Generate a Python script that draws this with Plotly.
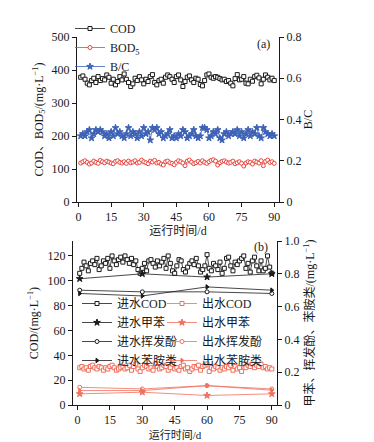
import plotly.graph_objects as go

# ---------------- data ----------------
x_ticks = [0, 15, 30, 45, 60, 75, 90]

cod_a = [378,382,372,360,355,368,375,362,380,368,374,370,385,378,360,372,355,365,380,370,
         388,372,362,350,358,375,368,380,370,358,372,365,380,386,362,355,368,372,360,378,
         385,380,372,362,380,385,370,350,365,378,382,370,362,375,372,356,352,368,385,388,
         378,375,380,378,374,370,372,365,368,360,352,374,386,370,372,380,360,358,372,366,
         380,384,376,358,372,385,378,370,375,368]
bod_a = [118,122,125,120,115,118,124,120,117,126,122,119,124,121,118,116,123,125,120,118,
         122,117,124,119,121,125,118,120,127,122,119,116,124,121,126,118,120,115,112,122,
         124,119,117,113,120,125,122,118,110,124,127,121,116,119,123,118,125,120,117,122,
         126,128,124,112,119,123,125,121,118,120,124,116,119,122,117,109,118,122,120,115,
         124,121,118,125,110,123,127,120,122,117]
bc_a = [0.32,0.33,0.32,0.34,0.35,0.31,0.33,0.35,0.34,0.35,0.34,0.32,0.33,0.31,0.34,0.32,0.36,0.33,0.34,0.32,
        0.31,0.33,0.36,0.32,0.34,0.33,0.31,0.34,0.32,0.36,0.33,0.34,0.30,0.36,0.35,0.36,0.33,0.34,0.31,0.32,
        0.33,0.35,0.31,0.32,0.31,0.33,0.32,0.35,0.34,0.31,0.32,0.33,0.35,0.32,0.31,0.32,0.36,0.36,0.35,0.31,
        0.32,0.34,0.33,0.35,0.31,0.30,0.33,0.34,0.32,0.33,0.34,0.33,0.35,0.32,0.34,0.31,0.33,0.35,0.32,0.34,
        0.33,0.36,0.32,0.31,0.36,0.34,0.33,0.32,0.33,0.32]

cod_in = [106,110,115,112,108,114,116,113,118,109,112,116,114,118,110,120,116,113,117,119,
          115,120,117,114,118,113,116,109,106,110,114,108,116,117,114,111,116,112,115,118,
          110,120,114,108,106,112,117,116,109,107,111,114,116,113,118,112,107,109,112,121,
          110,108,114,112,109,115,106,110,118,119,112,108,115,113,116,118,120,110,114,107,
          116,119,112,108,116,108,110,120,111,106]
cod_out = [30,31,29,30,28,31,32,30,29,31,30,28,30,29,31,32,30,28,29,30,
           31,29,30,32,28,31,33,29,27,30,32,31,29,30,28,33,31,29,30,32,
           31,28,30,33,29,30,28,31,32,29,30,27,29,31,30,32,28,31,32,33,
           27,30,29,31,30,28,30,29,31,30,32,28,31,29,30,27,33,30,32,31,
           33,30,32,31,33,30,31,29,30,29]

sample_days = [1, 30, 60, 90]
toluene_in = [0.77, 0.80, 0.78, 0.80]
phenol_in = [0.70, 0.69, 0.69, 0.68]
aniline_in = [0.68, 0.665, 0.72, 0.70]
toluene_out = [0.068, 0.078, 0.058, 0.068]
phenol_out = [0.108, 0.098, 0.118, 0.098]
aniline_out = [0.088, 0.088, 0.118, 0.09]

ya_left_ticks = [0, 100, 200, 300, 400, 500]
ya_right_vals = [0, 0.2, 0.4, 0.6, 0.8]
ya_right_text = ["0", "0.2", "0.4", "0.6", "0.8"]
yb_left_ticks = [0, 20, 40, 60, 80, 100, 120]
yb_right_vals = [0, 0.2, 0.4, 0.6, 0.8, 1.0]
yb_right_text = ["0", "0.2", "0.4", "0.6", "0.8", "1.0"]

days_a = list(range(1, len(cod_a) + 1))
days_b = list(range(1, len(cod_in) + 1))

# ---------------- style ----------------
W, H = 374, 442
BLACK = "#1a1a1a"
RED = "#e8453e"
RED2 = "#f0705e"
BLUE = "#3d62b6"
SERIF = "Liberation Serif, Times New Roman, serif"
CJK = "Liberation Serif, Noto Sans CJK SC, serif"

def px_x(p):
    return p / W

def px_y(p):
    return 1 - p / H

fig = go.Figure()

def add(x, y, name, color, symbol, fill, xa, ya, legend, size=4, lw=0.8):
    fig.add_trace(go.Scatter(
        x=x, y=y, name=name, mode="lines+markers", xaxis=xa, yaxis=ya, legend=legend,
        line=dict(color=color, width=lw),
        marker=dict(symbol=symbol, size=size, color=fill, line=dict(color=color, width=1)),
    ))

# top panel
add(days_a, cod_a, "COD", BLACK, "square", "white", "x", "y", "legend")
add(days_a, bod_a, "BOD<sub>5</sub>", RED, "circle", "white", "x", "y", "legend")
add(days_a, bc_a, "B/C", BLUE, "star", BLUE, "x", "y2", "legend", size=5)

# bottom panel
add(days_b, cod_in, "进水COD", BLACK, "square", "white", "x2", "y3", "legend2")
add(sample_days, toluene_in, "进水甲苯", BLACK, "star", BLACK, "x2", "y4", "legend2", size=5)
add(sample_days, phenol_in, "进水挥发酚", BLACK, "circle", "white", "x2", "y4", "legend2")
add(sample_days, aniline_in, "进水苯胺类", BLACK, "triangle-right", BLACK, "x2", "y4", "legend2")
add(days_b, cod_out, "出水COD", RED2, "square", "white", "x2", "y3", "legend3")
add(sample_days, toluene_out, "出水甲苯", RED2, "star", RED2, "x2", "y4", "legend3", size=5)
add(sample_days, phenol_out, "出水挥发酚", RED2, "circle", "white", "x2", "y4", "legend3")
add(sample_days, aniline_out, "出水苯胺类", RED2, "triangle-right", RED2, "x2", "y4", "legend3")

axis_common = dict(showline=True, linecolor=BLACK, linewidth=1, ticks="outside", ticklen=4,
                   tickcolor=BLACK, showgrid=False, zeroline=False, mirror=False, automargin=False,
                   tickfont=dict(family=SERIF, size=12, color=BLACK))

top_dom = [px_y(202), px_y(37)]
bot_dom = [px_y(405), px_y(241)]

fig.update_layout(
    width=W, height=H, autosize=False,
    margin=dict(l=0, r=0, t=0, b=0, pad=0),
    paper_bgcolor="white", plot_bgcolor="white",
    font=dict(family=CJK, size=12, color=BLACK),
    xaxis=dict(domain=[px_x(77), px_x(279)], range=[-0.7, 92.2], tickvals=x_ticks, anchor="y",
               title=dict(text="运行时间/d", font=dict(family=CJK, size=12), standoff=1), **axis_common),
    yaxis=dict(domain=top_dom, range=[0, 500], tickvals=ya_left_ticks, anchor="x",
               title=dict(text="COD、BOD<sub>5</sub>/(mg·L<sup>−1</sup>)", font=dict(family=CJK, size=12),
                          standoff=5),
               **axis_common),
    yaxis2=dict(domain=top_dom, range=[0, 0.8], tickvals=ya_right_vals, ticktext=ya_right_text,
                overlaying="y", side="right", anchor="x",
                title=dict(text="B/C", font=dict(family=SERIF, size=12), standoff=2), **axis_common),
    xaxis2=dict(domain=[px_x(73), px_x(277)], range=[-2.1, 92.4], tickvals=x_ticks, anchor="y3",
                title=dict(text="运行时间/d", font=dict(family=CJK, size=11), standoff=4), **axis_common),
    yaxis3=dict(domain=bot_dom, range=[0, 132], tickvals=yb_left_ticks, anchor="x2",
                title=dict(text="COD/(mg·L<sup>−1</sup>)", font=dict(family=CJK, size=12), standoff=6),
                **axis_common),
    yaxis4=dict(domain=bot_dom, range=[0, 1.0], tickvals=yb_right_vals, ticktext=yb_right_text,
                overlaying="y3", side="right", anchor="x2",
                title=dict(text="甲苯、挥发酚、苯胺类/(mg·L<sup>−1</sup>)", font=dict(family=CJK, size=12),
                           standoff=7),
                **axis_common),
    legend=dict(x=px_x(70), y=px_y(14), xanchor="left", yanchor="top", bgcolor="rgba(0,0,0,0)",
                font=dict(family=SERIF, size=12), itemwidth=30, tracegroupgap=0),
    legend2=dict(x=px_x(77), y=px_y(289), xanchor="left", yanchor="top", bgcolor="rgba(0,0,0,0)",
                 font=dict(family=CJK, size=12), itemwidth=30, tracegroupgap=0),
    legend3=dict(x=px_x(162), y=px_y(289), xanchor="left", yanchor="top", bgcolor="rgba(0,0,0,0)",
                 font=dict(family=CJK, size=12), itemwidth=30, tracegroupgap=0),
    showlegend=True,
    annotations=[
        dict(text="(a)", x=px_x(272), y=px_y(44), xref="paper", yref="paper", showarrow=False,
             xanchor="right", yanchor="middle", font=dict(family=SERIF, size=12, color=BLACK)),
        dict(text="(b)", x=px_x(270), y=px_y(247), xref="paper", yref="paper", showarrow=False,
             xanchor="right", yanchor="middle", font=dict(family=SERIF, size=12, color=BLACK)),
    ],
)

fig.write_html("out.html", config={"displayModeBar": False},
               post_script="document.body.style.margin='0';")
